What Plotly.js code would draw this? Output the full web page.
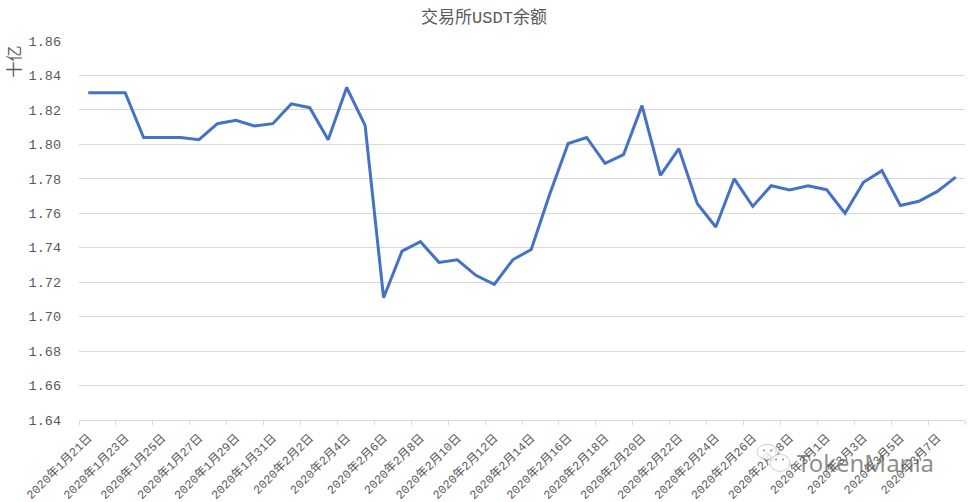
<!DOCTYPE html>
<html>
<head>
<meta charset="utf-8">
<script src="https://cdn.plot.ly/plotly-3.0.1.min.js"></script>
<style>
    html, body { margin: 0; padding: 0; background: #ffffff; }
</style>
</head>
<body>
<div id="chart" style="width:968px;height:502px;"></div>
<script>
// 交易所USDT余额
const dates = [
    '2020年1月21日', '2020年1月22日', '2020年1月23日', '2020年1月24日', '2020年1月25日', '2020年1月26日',
    '2020年1月27日', '2020年1月28日', '2020年1月29日', '2020年1月30日', '2020年1月31日', '2020年2月1日',
    '2020年2月2日', '2020年2月3日', '2020年2月4日', '2020年2月5日', '2020年2月6日', '2020年2月7日',
    '2020年2月8日', '2020年2月9日', '2020年2月10日', '2020年2月11日', '2020年2月12日', '2020年2月13日',
    '2020年2月14日', '2020年2月15日', '2020年2月16日', '2020年2月17日', '2020年2月18日', '2020年2月19日',
    '2020年2月20日', '2020年2月21日', '2020年2月22日', '2020年2月23日', '2020年2月24日', '2020年2月25日',
    '2020年2月26日', '2020年2月27日', '2020年2月28日', '2020年2月29日', '2020年3月1日', '2020年3月2日',
    '2020年3月3日', '2020年3月4日', '2020年3月5日', '2020年3月6日', '2020年3月7日', '2020年3月8日'
];
const balances = [
    1.83, 1.83, 1.83, 1.804, 1.804, 1.804,
    1.8027, 1.812, 1.814, 1.8107, 1.812, 1.8235,
    1.8213, 1.8027, 1.833, 1.811, 1.711, 1.738,
    1.7435, 1.7315, 1.733, 1.724, 1.7187, 1.733,
    1.739, 1.771, 1.8005, 1.804, 1.789, 1.794,
    1.8225, 1.782, 1.7975, 1.7655, 1.752, 1.78,
    1.764, 1.776, 1.7735, 1.776, 1.7737, 1.76,
    1.778, 1.7847, 1.7645, 1.767, 1.7727, 1.781
];
const yTicks = [1.64, 1.66, 1.68, 1.70, 1.72, 1.74, 1.76, 1.78, 1.80, 1.82, 1.84, 1.86];

const FONT = "'Liberation Mono', 'Noto Sans CJK SC', monospace";
const TEXT_COLOR = '#595959';
const GRID_COLOR = '#D9D9D9';

// 水印图标：像素坐标换算成 paper 坐标
const px = v => (v - 79) / 886;
const py = v => (420.5 - v) / 380;

function bubble(x0, y0, x1, y1) {
    return {
        type: 'circle', xref: 'paper', yref: 'paper',
        x0: px(x0), x1: px(x1), y0: py(y0), y1: py(y1),
        fillcolor: 'rgba(255,255,255,0.8)',
        line: { color: 'rgba(170,170,170,0.6)', width: 1 }
    };
}

function dot(cx, cy) {
    return {
        type: 'circle', xref: 'paper', yref: 'paper',
        x0: px(cx - 1), x1: px(cx + 1), y0: py(cy - 1), y1: py(cy + 1),
        fillcolor: 'rgba(110,110,110,0.8)',
        line: { width: 0 }
    };
}

const data = [{
    x: dates,
    y: balances,
    type: 'scatter',
    mode: 'lines',
    line: { color: '#4472C4', width: 3 },
    hoverinfo: 'x+y'
}];

const layout = {
    width: 968,
    height: 502,
    showlegend: false,
    paper_bgcolor: '#ffffff',
    plot_bgcolor: '#ffffff',
    margin: { t: 40.5, r: 3, b: 81.5, l: 79, pad: 0 },
    font: { family: FONT, size: 13, color: TEXT_COLOR },
    title: {
        text: '交易所USDT余额',
        font: { family: FONT, size: 17, color: TEXT_COLOR },
        x: 0.5,
        xanchor: 'center',
        y: 0.966,
        yanchor: 'middle'
    },
    xaxis: {
        type: 'category',
        range: [-0.5, 47.5],
        tickson: 'boundaries',
        dtick: 2,
        tickangle: -45,
        ticks: 'outside',
        ticklen: 4,
        tickcolor: GRID_COLOR,
        tickwidth: 1,
        ticklabelstandoff: 5,
        showgrid: false,
        showline: true,
        linecolor: GRID_COLOR,
        tickfont: { family: FONT, size: 12, color: TEXT_COLOR }
    },
    yaxis: {
        range: [1.64, 1.86],
        tickvals: yTicks,
        tickformat: '.2f',
        ticks: '',
        ticklabelstandoff: 17,
        showline: false,
        zeroline: false,
        gridcolor: GRID_COLOR,
        gridwidth: 1,
        tickfont: { family: FONT, size: 13.5, color: TEXT_COLOR }
    },
    shapes: [
        bubble(757, 445, 778, 460),
        bubble(770, 455, 790, 472),
        dot(764, 451),
        dot(771, 451),
        dot(776, 460),
        dot(783, 460)
    ],
    annotations: [
        {
            text: '十亿',
            xref: 'paper', yref: 'paper',
            x: px(15), y: py(61),
            xanchor: 'center',
            yanchor: 'middle',
            textangle: -90,
            showarrow: false,
            font: { family: FONT, size: 16, color: TEXT_COLOR }
        },
        {
            text: 'TokenMania',
            xref: 'paper', yref: 'paper',
            x: px(936), y: py(463),
            xanchor: 'right',
            yanchor: 'middle',
            showarrow: false,
            font: { family: "'Noto Sans', sans-serif", size: 24, color: 'rgba(90,90,90,0.7)' }
        }
    ]
};

Plotly.newPlot('chart', data, layout, { displayModeBar: false });
</script>
</body>
</html>
